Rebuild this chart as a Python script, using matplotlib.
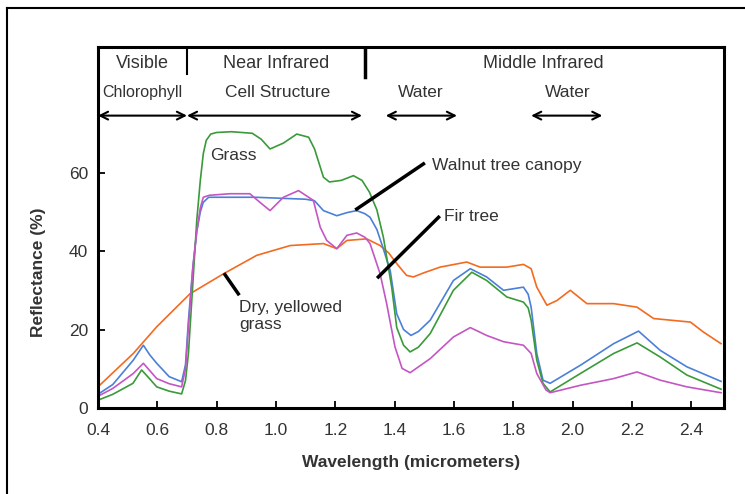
import matplotlib
matplotlib.use("Agg")
import matplotlib.pyplot as plt
from matplotlib.lines import Line2D

plt.rcParams['font.family'] = ['Liberation Sans', 'DejaVu Sans']

# reflectance curves (wavelength in micrometers, reflectance in %)
grass_wl = [0.40, 0.45, 0.518, 0.547, 0.57, 0.598, 0.64, 0.682, 0.695, 0.705, 0.72, 0.733, 0.745,
            0.755, 0.765, 0.78, 0.80, 0.85, 0.92, 0.95, 0.98, 1.025, 1.07, 1.11, 1.13, 1.16, 1.18,
            1.22, 1.261, 1.29, 1.315, 1.34, 1.362, 1.39, 1.407, 1.43, 1.452, 1.48, 1.52, 1.598,
            1.66, 1.71, 1.778, 1.834, 1.85, 1.86, 1.879, 1.90, 1.924, 2.026, 2.138, 2.217, 2.295,
            2.385, 2.50]
grass_r = [2.0, 3.5, 6.3, 9.7, 7.8, 5.4, 4.3, 3.6, 7.0, 14.0, 32.0, 47.8, 58.0,
           64.8, 68.2, 69.8, 70.2, 70.4, 70.0, 68.5, 66.0, 67.5, 69.8, 69.0, 66.0, 58.8, 57.6,
           58.0, 59.2, 58.0, 55.0, 50.5, 43.5, 30.8, 20.5, 16.0, 14.3, 15.5, 19.0, 30.0,
           34.6, 32.5, 28.3, 27.0, 25.5, 22.4, 12.2, 6.3, 4.1, 8.8, 13.9, 16.6, 13.0,
           8.4, 4.8]

walnut_wl = [0.40, 0.45, 0.519, 0.553, 0.575, 0.598, 0.64, 0.682, 0.695, 0.705, 0.72, 0.733, 0.745,
             0.755, 0.773, 0.93, 1.10, 1.13, 1.16, 1.205, 1.24, 1.272, 1.30, 1.317, 1.34, 1.36,
             1.385, 1.407, 1.43, 1.455, 1.48, 1.52, 1.598, 1.655, 1.71, 1.767, 1.834, 1.85, 1.86,
             1.879, 1.90, 1.924, 2.026, 2.138, 2.222, 2.295, 2.385, 2.50]
walnut_r = [3.5, 6.0, 12.2, 16.0, 13.5, 11.4, 8.0, 6.7, 11.0, 22.4, 36.0, 45.0, 50.0,
            52.4, 53.7, 53.7, 53.2, 52.8, 50.3, 49.0, 49.8, 50.3, 49.5, 48.6, 45.5, 41.0,
            35.0, 24.0, 20.0, 18.5, 19.5, 22.4, 32.5, 35.5, 33.4, 30.0, 30.8, 29.0, 25.7,
            13.9, 7.1, 6.3, 10.9, 16.4, 19.6, 14.7, 10.5, 6.8]

fir_wl = [0.40, 0.45, 0.519, 0.553, 0.575, 0.598, 0.64, 0.682, 0.695, 0.705, 0.72, 0.733, 0.745,
          0.755, 0.775, 0.845, 0.912, 0.946, 0.98, 1.025, 1.076, 1.126, 1.149, 1.171, 1.205,
          1.239, 1.272, 1.30, 1.317, 1.351, 1.373, 1.401, 1.425, 1.452, 1.52, 1.598, 1.655, 1.71,
          1.767, 1.834, 1.86, 1.879, 1.91, 1.924, 2.026, 2.138, 2.217, 2.295, 2.385, 2.50]
fir_r = [3.0, 5.0, 8.8, 11.4, 9.5, 7.5, 6.2, 5.4, 10.0, 20.7, 36.0, 45.0, 51.0,
         53.7, 54.2, 54.6, 54.6, 52.4, 50.3, 53.7, 55.4, 52.9, 46.1, 42.7, 40.6,
         44.0, 44.6, 43.5, 41.9, 34.2, 26.6, 15.6, 10.1, 9.0, 12.6, 18.1, 20.5, 18.5,
         16.9, 16.0, 13.9, 8.8, 4.6, 3.9, 5.8, 7.5, 9.2, 7.1, 5.4, 3.9]

dry_wl = [0.40, 0.519, 0.598, 0.71, 0.823, 0.935, 1.048, 1.16, 1.205, 1.239, 1.306, 1.351, 1.38,
          1.407, 1.44, 1.463, 1.50, 1.553, 1.643, 1.688, 1.778, 1.834, 1.86, 1.879, 1.913, 1.947,
          1.992, 2.048, 2.138, 2.217, 2.273, 2.397, 2.44, 2.50]
dry_r = [5.4, 13.9, 20.7, 29.1, 34.2, 38.9, 41.4, 41.9, 40.6, 42.7, 43.1, 41.4, 39.5,
         36.8, 33.8, 33.4, 34.5, 35.9, 37.2, 35.9, 35.9, 36.6, 35.5, 30.8, 26.2, 27.4,
         30.0, 26.6, 26.6, 25.7, 22.8, 21.9, 19.4, 16.4]

x_ticks = [0.4, 0.6, 0.8, 1.0, 1.2, 1.4, 1.6, 1.8, 2.0, 2.2, 2.4]
y_ticks = [0, 20, 40, 60]

regions = ['Visible', 'Near Infrared', 'Middle Infrared']
region_x = [0.55, 1.0, 1.9]
region_edges = [0.7, 1.3]
bands = ['Chlorophyll', 'Cell Structure', 'Water', 'Water']
band_x = [0.548, 1.005, 1.487, 1.982]
band_sizes = [11.5, 12.5, 12.5, 12.5]
band_spans = [(0.4, 0.7), (0.7, 1.29), (1.37, 1.61), (1.86, 2.1)]

txt = '#333333'

fig = plt.figure(figsize=(7.45, 4.94), dpi=100)
ax = fig.add_axes([0.1315, 0.174, 0.8403, 0.731])

ax.plot(dry_wl, dry_r, color='#f26b21', lw=1.2)
ax.plot(walnut_wl, walnut_r, color='#4a80d8', lw=1.2)
ax.plot(grass_wl, grass_r, color='#3a9a3a', lw=1.2)
ax.plot(fir_wl, fir_r, color='#c456c4', lw=1.2)

ax.set_xlim(0.4, 2.51)
ax.set_ylim(0, 92)
ax.set_xticks(x_ticks)
ax.set_xticklabels([f'{v:.1f}' for v in x_ticks])
ax.set_yticks(y_ticks)
ax.tick_params(direction='in', length=5, width=1.3, labelsize=12.5, labelcolor=txt, pad=7)
ax.tick_params(axis='x', pad=11)
for s in ax.spines.values():
    s.set_linewidth(2.2)

# header rows inside the box
for name, xc in zip(regions, region_x):
    ax.text(xc, 87.9, name, ha='center', va='center', fontsize=13, color=txt)
ax.plot([region_edges[0]] * 2, [92, 85.0], color='black', lw=1.5)
ax.plot([region_edges[1]] * 2, [92, 84.4], color='black', lw=2.5)
for name, xc, fs in zip(bands, band_x, band_sizes):
    ax.text(xc, 80.3, name, ha='center', va='center', fontsize=fs, color=txt)
for x0, x1 in band_spans:
    ax.annotate('', xy=(x1, 74.5), xytext=(x0, 74.5),
                arrowprops=dict(arrowstyle='<->', lw=1.5, color='black', mutation_scale=14,
                                shrinkA=0, shrinkB=0))

# curve labels
ax.text(0.778, 64.3, 'Grass', ha='left', va='center', fontsize=12.5, color=txt)
ax.plot([1.272, 1.497], [50.7, 62.2], color='black', lw=2.5)
ax.text(1.525, 61.8, 'Walnut tree canopy', ha='left', va='center', fontsize=12.5, color=txt)
ax.plot([1.345, 1.548], [33.4, 48.6], color='black', lw=2.5)
ax.text(1.565, 48.8, 'Fir tree', ha='left', va='center', fontsize=12.5, color=txt)
ax.plot([0.828, 0.873], [34.0, 29.1], color='black', lw=2.5)
ax.text(0.877, 23.4, 'Dry, yellowed\ngrass', ha='left', va='center', fontsize=12.5,
        color=txt, linespacing=1.2)

fig.text(38 / 745, 1 - 272 / 494, 'Reflectance (%)', rotation=90, ha='center', va='center',
         fontsize=12.5, fontweight='bold', color=txt)
fig.text(411 / 745, 1 - 462 / 494, 'Wavelength (micrometers)', ha='center', va='center',
         fontsize=12.5, fontweight='bold', color=txt)

# outer frame that runs off the right and bottom edges
fig.add_artist(Line2D([7 / 745, 7 / 745], [0, 1 - 8 / 494], color='black', lw=1.5))
fig.add_artist(Line2D([7 / 745, 1], [1 - 8 / 494, 1 - 8 / 494], color='black', lw=1.5))

fig.savefig('out.png', dpi=100)
